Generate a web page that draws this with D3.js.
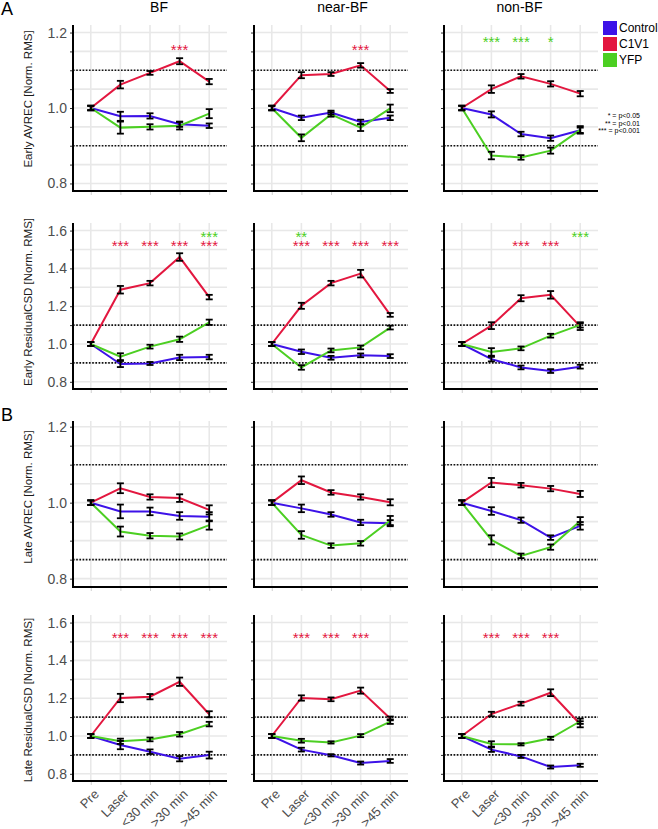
<!DOCTYPE html>
<html><head><meta charset="utf-8">
<script src="https://cdn.jsdelivr.net/npm/d3@7"></script>
<style>body{margin:0;background:#fff;}svg{display:block;font-family:"Liberation Sans",Arial,sans-serif;}</style>
</head><body><svg id="c" width="658" height="829"></svg>
<script>
// ---------- data ----------
const categories = ["Pre", "Laser", "<30 min", ">30 min", ">45 min"];
const groups = ["Control", "C1V1", "YFP"];
const regions = ["BF", "near-BF", "non-BF"];
const measures = ["Early AVREC [Norm. RMS]", "Early ResidualCSD [Norm. RMS]", "Late AVREC [Norm. RMS]", "Late ResidualCSD [Norm. RMS]"];

// Early AVREC means / SEM
const earlyAVREC_BF_mean = {Control:[1,0.978,0.979,0.957,0.953], C1V1:[1,1.062,1.093,1.124,1.070], YFP:[1,0.948,0.950,0.953,0.985]};
const earlyAVREC_BF_err  = {Control:[0.006,0.012,0.007,0.007,0.006], C1V1:[0.006,0.010,0.005,0.008,0.007], YFP:[0.006,0.016,0.007,0.010,0.012]};
const earlyAVREC_near_mean = {Control:[1,0.974,0.988,0.963,0.974], C1V1:[1,1.087,1.090,1.113,1.045], YFP:[1,0.921,0.983,0.948,0.999]};
const earlyAVREC_near_err  = {Control:[0.006,0.006,0.005,0.006,0.006], C1V1:[0.006,0.008,0.005,0.006,0.005], YFP:[0.006,0.009,0.006,0.009,0.010]};
const earlyAVREC_non_mean = {Control:[1,0.983,0.931,0.920,0.941], C1V1:[1,1.050,1.084,1.064,1.038], YFP:[1,0.874,0.869,0.887,0.942]};
const earlyAVREC_non_err  = {Control:[0.006,0.008,0.006,0.007,0.007], C1V1:[0.006,0.010,0.006,0.007,0.007], YFP:[0.006,0.010,0.006,0.008,0.010]};

// Early ResidualCSD
const earlyCSD_BF_mean = {Control:[1,0.894,0.897,0.929,0.931], C1V1:[1,1.287,1.322,1.460,1.248], YFP:[1,0.933,0.986,1.025,1.115]};
const earlyCSD_BF_err  = {Control:[0.010,0.016,0.008,0.014,0.012], C1V1:[0.010,0.020,0.012,0.020,0.012], YFP:[0.010,0.018,0.010,0.014,0.014]};
const earlyCSD_near_mean = {Control:[1,0.959,0.927,0.940,0.936], C1V1:[1,1.202,1.322,1.372,1.154], YFP:[1,0.876,0.966,0.982,1.087]};
const earlyCSD_near_err  = {Control:[0.010,0.012,0.010,0.010,0.010], C1V1:[0.010,0.016,0.012,0.020,0.010], YFP:[0.010,0.012,0.010,0.010,0.010]};
const earlyCSD_non_mean = {Control:[1,0.920,0.876,0.857,0.880], C1V1:[1,1.097,1.242,1.260,1.092], YFP:[1,0.958,0.977,1.044,1.101]};
const earlyCSD_non_err  = {Control:[0.010,0.012,0.010,0.010,0.010], C1V1:[0.010,0.018,0.016,0.020,0.018], YFP:[0.010,0.020,0.010,0.010,0.014]};

// Late AVREC
const lateAVREC_BF_mean = {Control:[1,0.977,0.977,0.965,0.963], C1V1:[1,1.038,1.015,1.012,0.981], YFP:[1,0.924,0.913,0.911,0.941]};
const lateAVREC_BF_err  = {Control:[0.006,0.018,0.010,0.010,0.012], C1V1:[0.006,0.013,0.007,0.010,0.012], YFP:[0.006,0.013,0.007,0.008,0.012]};
const lateAVREC_near_mean = {Control:[1,0.985,0.969,0.948,0.946], C1V1:[1,1.059,1.027,1.015,1.001], YFP:[1,0.915,0.887,0.893,0.953]};
const lateAVREC_near_err  = {Control:[0.006,0.010,0.006,0.007,0.008], C1V1:[0.006,0.010,0.006,0.007,0.008], YFP:[0.006,0.010,0.006,0.006,0.012]};
const lateAVREC_non_mean = {Control:[1,0.978,0.954,0.908,0.939], C1V1:[1,1.053,1.046,1.037,1.023], YFP:[1,0.902,0.860,0.883,0.952]};
const lateAVREC_non_err  = {Control:[0.006,0.010,0.007,0.006,0.010], C1V1:[0.006,0.012,0.006,0.007,0.008], YFP:[0.006,0.012,0.006,0.007,0.010]};

// Late ResidualCSD
const lateCSD_BF_mean = {Control:[1,0.952,0.917,0.880,0.899], C1V1:[1,1.201,1.208,1.287,1.115], YFP:[1,0.972,0.982,1.009,1.063]};
const lateCSD_BF_err  = {Control:[0.010,0.022,0.012,0.014,0.018], C1V1:[0.010,0.022,0.014,0.022,0.016], YFP:[0.010,0.014,0.010,0.012,0.012]};
const lateCSD_near_mean = {Control:[1,0.928,0.898,0.857,0.868], C1V1:[1,1.201,1.194,1.240,1.093], YFP:[1,0.975,0.966,1.002,1.076]};
const lateCSD_near_err  = {Control:[0.010,0.010,0.006,0.008,0.010], C1V1:[0.010,0.014,0.010,0.016,0.010], YFP:[0.010,0.010,0.006,0.008,0.012]};
const lateCSD_non_mean = {Control:[1,0.928,0.892,0.836,0.845], C1V1:[1,1.116,1.171,1.229,1.062], YFP:[1,0.958,0.956,0.988,1.078]};
const lateCSD_non_err  = {Control:[0.010,0.012,0.008,0.008,0.008], C1V1:[0.010,0.012,0.010,0.018,0.016], YFP:[0.010,0.014,0.006,0.008,0.014]};

// significance stars: [category, label, group, value position]
const stars_earlyAVREC_BF   = [[">30 min","***","C1V1",1.16]];
const stars_earlyAVREC_near = [[">30 min","***","C1V1",1.16]];
const stars_earlyAVREC_non  = [["Laser","***","YFP",1.18],["<30 min","***","YFP",1.18],[">30 min","*","YFP",1.18]];
const stars_earlyCSD_BF   = [["Laser","***","C1V1",1.53],["<30 min","***","C1V1",1.53],[">30 min","***","C1V1",1.53],[">45 min","***","C1V1",1.53],[">45 min","***","YFP",1.575]];
const stars_earlyCSD_near = [["Laser","**","YFP",1.575],["Laser","***","C1V1",1.53],["<30 min","***","C1V1",1.53],[">30 min","***","C1V1",1.53],[">45 min","***","C1V1",1.53]];
const stars_earlyCSD_non  = [["<30 min","***","C1V1",1.53],[">30 min","***","C1V1",1.53],[">45 min","***","YFP",1.575]];
const stars_lateAVREC_BF = [], stars_lateAVREC_near = [], stars_lateAVREC_non = [];
const stars_lateCSD_BF   = [["Laser","***","C1V1",1.53],["<30 min","***","C1V1",1.53],[">30 min","***","C1V1",1.53],[">45 min","***","C1V1",1.53]];
const stars_lateCSD_near = [["Laser","***","C1V1",1.53],["<30 min","***","C1V1",1.53],[">30 min","***","C1V1",1.53]];
const stars_lateCSD_non  = [["Laser","***","C1V1",1.53],["<30 min","***","C1V1",1.53],[">30 min","***","C1V1",1.53]];

// axis ticks
const avrecLabels = [0.8, 1.0, 1.2];
const csdLabels = [0.8, 1.0, 1.2, 1.4, 1.6];
const avrecGrid = [0.8,0.85,0.9,0.95,1.0,1.05,1.1,1.15,1.2];
const csdGrid = [0.8,0.9,1.0,1.1,1.2,1.3,1.4,1.5,1.6];
const earlyRefLines = [0.9, 1.1];
const lateAvrecRefLines = [0.85, 1.1];
const sigLegend = ["* = p<0.05", "** = p<0.01", "*** = p<0.001"];

// ---------- layout ----------
const colors = {Control:"#3d12e8", C1V1:"#e3173f", YFP:"#4ccf22"};
const cols = [{x0:73,x1:227},{x0:254,x1:408},{x0:444,x1:598}];
const rows = [
  {y0:25,y1:191,domain:[0.78,1.22],grid:avrecGrid,labels:avrecLabels,ref:earlyRefLines,titleY:99,
   panels:[[earlyAVREC_BF_mean,earlyAVREC_BF_err,stars_earlyAVREC_BF],[earlyAVREC_near_mean,earlyAVREC_near_err,stars_earlyAVREC_near],[earlyAVREC_non_mean,earlyAVREC_non_err,stars_earlyAVREC_non]]},
  {y0:223,y1:389,domain:[0.762,1.64],grid:csdGrid,labels:csdLabels,ref:earlyRefLines,titleY:302,
   panels:[[earlyCSD_BF_mean,earlyCSD_BF_err,stars_earlyCSD_BF],[earlyCSD_near_mean,earlyCSD_near_err,stars_earlyCSD_near],[earlyCSD_non_mean,earlyCSD_non_err,stars_earlyCSD_non]]},
  {y0:421,y1:587,domain:[0.778,1.215],grid:avrecGrid,labels:avrecLabels,ref:lateAvrecRefLines,titleY:497,
   panels:[[lateAVREC_BF_mean,lateAVREC_BF_err,stars_lateAVREC_BF],[lateAVREC_near_mean,lateAVREC_near_err,stars_lateAVREC_near],[lateAVREC_non_mean,lateAVREC_non_err,stars_lateAVREC_non]]},
  {y0:615,y1:781,domain:[0.762,1.64],grid:csdGrid,labels:csdLabels,ref:earlyRefLines,titleY:700,
   panels:[[lateCSD_BF_mean,lateCSD_BF_err,stars_lateCSD_BF],[lateCSD_near_mean,lateCSD_near_err,stars_lateCSD_near],[lateCSD_non_mean,lateCSD_non_err,stars_lateCSD_non]]}
];

const svg = d3.select("#c");

rows.forEach((row, ri) => {
  const y = d3.scaleLinear().domain(row.domain).range([row.y1, row.y0]);
  svg.append("text").attr("transform",`translate(32,${row.titleY}) rotate(-90)`)
    .attr("text-anchor","middle").attr("font-size",11.5).attr("fill","#1a1a1a").text(measures[ri]);
  row.panels.forEach((p, ci) => {
    const c = cols[ci];
    const x = d3.scalePoint().domain(categories).range([c.x0, c.x1]).padding(0.6);
    const g = svg.append("g");
    g.selectAll(".hg").data(row.grid).join("line")
      .attr("x1",c.x0).attr("x2",c.x1).attr("y1",d=>y(d)).attr("y2",d=>y(d))
      .attr("stroke","#e8e8e8").attr("stroke-width",1.6);
    g.selectAll(".vg").data(categories).join("line")
      .attr("x1",d=>x(d)).attr("x2",d=>x(d)).attr("y1",row.y0).attr("y2",row.y1)
      .attr("stroke","#e8e8e8").attr("stroke-width",1.6);
    g.selectAll(".ref").data(row.ref).join("line")
      .attr("x1",c.x0).attr("x2",c.x1).attr("y1",d=>y(d)).attr("y2",d=>y(d))
      .attr("stroke","#111").attr("stroke-width",1.6).attr("stroke-dasharray","1.6,1.6");
    const yAxis = d3.axisLeft(y).tickValues(row.grid).tickSize(3)
      .tickFormat(d => (ci===0 && row.labels.some(l=>Math.abs(l-d)<1e-9)) ? d3.format(".1f")(d) : "");
    const ya = g.append("g").attr("transform",`translate(${c.x0},0)`).call(yAxis);
    ya.select(".domain").remove();
    ya.selectAll(".tick line").attr("stroke","#333").attr("stroke-width",1);
    ya.selectAll(".tick text").attr("font-size",14).attr("fill","#4d4d4d").attr("x",-6)
      .attr("font-family","Liberation Sans, Arial, sans-serif");
    const xAxis = d3.axisBottom(x).tickSize(4).tickFormat("");
    const xa = g.append("g").attr("transform",`translate(0,${row.y1})`).call(xAxis);
    xa.select(".domain").remove();
    xa.selectAll(".tick line").attr("stroke","#d0d0d0").attr("stroke-width",1);
    g.append("line").attr("x1",c.x0).attr("x2",c.x0).attr("y1",row.y0).attr("y2",row.y1+1)
      .attr("stroke","#000").attr("stroke-width",2);
    g.append("line").attr("x1",c.x0-1).attr("x2",c.x1).attr("y1",row.y1).attr("y2",row.y1)
      .attr("stroke","#000").attr("stroke-width",2);
    if (ri === 3) {
      g.selectAll(".xl").data(categories).join("text")
        .attr("transform",d=>`translate(${x(d)+9},${row.y1+14}) rotate(-45)`)
        .attr("text-anchor","end").attr("font-size",13).attr("fill","#4d4d4d").text(d=>d);
    }
    const [means, errs, stars] = p;
    const line = d3.line().x((d,i)=>x(categories[i])).y(d=>y(d));
    groups.forEach(gr => {
      g.append("path").attr("d",line(means[gr])).attr("fill","none")
        .attr("stroke",colors[gr]).attr("stroke-width",2);
    });
    groups.forEach(gr => {
      means[gr].forEach((m,i) => {
        const cx = x(categories[i]), e = errs[gr][i];
        const eb = g.append("g").attr("stroke","#000").attr("stroke-width",1.8);
        eb.append("line").attr("x1",cx).attr("x2",cx).attr("y1",y(m-e)).attr("y2",y(m+e));
        eb.append("line").attr("x1",cx-3.5).attr("x2",cx+3.5).attr("y1",y(m-e)).attr("y2",y(m-e));
        eb.append("line").attr("x1",cx-3.5).attr("x2",cx+3.5).attr("y1",y(m+e)).attr("y2",y(m+e));
      });
    });
    g.selectAll(".st").data(stars).join("text")
      .attr("x",d=>x(d[0])).attr("y",d=>y(d[3])+7)
      .attr("text-anchor","middle").attr("font-size",15).attr("fill",d=>colors[d[2]]).text(d=>d[1]);
    if (ri === 0) {
      svg.append("text").attr("x",[159,342.5,519.5][ci]).attr("y",12).attr("text-anchor","middle")
        .attr("font-size",14).attr("fill","#000").text(regions[ci]);
    }
  });
});

svg.append("text").attr("x",1).attr("y",15).attr("font-size",18).attr("fill","#000").text("A");
svg.append("text").attr("x",1).attr("y",421).attr("font-size",18).attr("fill","#000").text("B");

const lg = svg.append("g");
groups.forEach((gr,i) => {
  lg.append("rect").attr("x",603).attr("y",21+i*16).attr("width",14).attr("height",14).attr("fill",colors[gr]);
  lg.append("text").attr("x",619).attr("y",28+i*16).attr("dy","0.35em").attr("font-size",12).attr("fill","#000").text(gr);
});
sigLegend.forEach((t,i) => {
  lg.append("text").attr("x",640).attr("y",[116,123.5,131][i]).attr("dy","0.35em")
    .attr("text-anchor","end").attr("font-size",7).attr("fill","#000").text(t);
});
</script></body></html>
